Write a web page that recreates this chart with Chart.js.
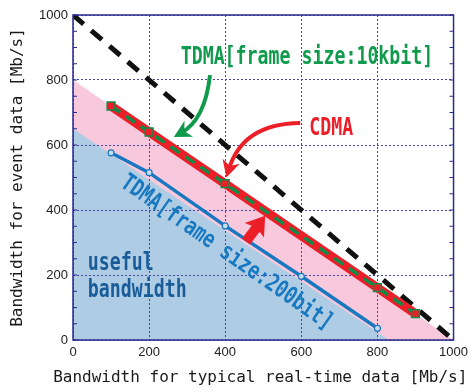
<!DOCTYPE html>
<html>
<head>
<meta charset="utf-8">
<script src="https://cdn.jsdelivr.net/npm/chart.js@4"></script>
<style>
  html, body { margin: 0; padding: 0; background: #fff; }
  #wrap { width: 473px; height: 392px; }
</style>
</head>
<body>
<div id="wrap"><canvas id="chart_bw"></canvas></div>
<script>
// data (Mb/s)
var tdma10kX = [100, 200, 400, 800, 900];
var tdma10kY = [720, 640, 481, 161, 81];
var cdmaX = [100, 200, 400, 800, 900];
var cdmaY = [720, 640, 481, 161, 81];
var tdma200X = [100, 200, 400, 600, 800];
var tdma200Y = [576, 515, 351, 196, 36];
var limitX = [0, 1000];
var limitY = [1000, 0];
var cdmaAreaX = [0, 1000];
var cdmaAreaY = [800, 0];
var usefulX = [0, 830];
var usefulY = [650, 0];
var tickStep = 200;
var minorStep = 50;

function pts(xs, ys) {
  return xs.map(function(x, i) { return {x: x, y: ys[i]}; });
}

var NAVY = '#2a2a8c';
var GREEN = '#0f9a4c';
var RED = '#ec1f28';
var BLUE = '#1878c0';

// condensed text, drawn in data coordinates
function label(ctx, chart, str, x, y, color, opts) {
  opts = opts || {};
  var px = chart.scales.x.getPixelForValue(x);
  var py = chart.scales.y.getPixelForValue(y);
  ctx.save();
  ctx.translate(px, py);
  ctx.rotate(opts.rot || 0);
  ctx.scale(opts.sx || 0.76, 1);
  ctx.font = 'bold ' + (opts.size || 24) + 'px "DejaVu Sans Mono"';
  ctx.fillStyle = color;
  ctx.textAlign = opts.align || 'left';
  ctx.textBaseline = opts.baseline || 'alphabetic';
  ctx.fillText(str, 0, 0);
  ctx.restore();
}

function head(ctx, tx, ty, ang, len, hw, color) {
  ctx.save();
  ctx.translate(tx, ty);
  ctx.rotate(ang);
  ctx.fillStyle = color;
  ctx.beginPath();
  ctx.moveTo(0, 0);
  ctx.lineTo(-len, -hw);
  ctx.lineTo(-len * 0.7, 0);
  ctx.lineTo(-len, hw);
  ctx.closePath();
  ctx.fill();
  ctx.restore();
}

function curvedArrow(ctx, chart, p0, c, p1, color) {
  var sx = chart.scales.x, sy = chart.scales.y;
  var x0 = sx.getPixelForValue(p0[0]), y0 = sy.getPixelForValue(p0[1]);
  var cx = sx.getPixelForValue(c[0]), cy = sy.getPixelForValue(c[1]);
  var x1 = sx.getPixelForValue(p1[0]), y1 = sy.getPixelForValue(p1[1]);
  var ang = Math.atan2(y1 - cy, x1 - cx);
  ctx.save();
  ctx.strokeStyle = color;
  ctx.lineWidth = 4;
  ctx.beginPath();
  ctx.moveTo(x0, y0);
  ctx.quadraticCurveTo(cx, cy, x1 - Math.cos(ang) * 8, y1 - Math.sin(ang) * 8);
  ctx.stroke();
  ctx.restore();
  head(ctx, x1, y1, ang, 17, 9, color);
}

function blockArrow(ctx, chart, tip, ang, color) {
  var tx = chart.scales.x.getPixelForValue(tip[0]);
  var ty = chart.scales.y.getPixelForValue(tip[1]);
  ctx.save();
  ctx.translate(tx, ty);
  ctx.rotate(ang);
  ctx.fillStyle = color;
  ctx.beginPath();
  ctx.moveTo(0, 0);
  ctx.lineTo(-18, -12);
  ctx.lineTo(-16, -5);
  ctx.lineTo(-32, -5);
  ctx.lineTo(-32, 5);
  ctx.lineTo(-16, 5);
  ctx.lineTo(-18, 12);
  ctx.closePath();
  ctx.fill();
  ctx.restore();
}

var framePlugin = {
  id: 'frame',
  afterDatasetsDraw: function(chart) {
    var ctx = chart.ctx, a = chart.chartArea;
    var sy = chart.scales.y;
    ctx.save();
    ctx.strokeStyle = NAVY;
    ctx.lineWidth = 1.5;
    ctx.strokeRect(a.left, a.top, a.right - a.left, a.bottom - a.top);
    ctx.lineWidth = 1.2;
    ctx.beginPath();
    for (var v = 0; v <= 1000; v += minorStep) {
      var py = sy.getPixelForValue(v);
      ctx.moveTo(a.left, py); ctx.lineTo(a.left + 4, py);
      ctx.moveTo(a.right, py); ctx.lineTo(a.right - 4, py);
    }
    ctx.stroke();
    ctx.restore();

    // x axis title drawn here so it is not squeezed to the plot width
    ctx.save();
    ctx.font = '16px "DejaVu Sans Mono"';
    ctx.fillStyle = '#1a1a1a';
    ctx.textAlign = 'center';
    ctx.textBaseline = 'middle';
    ctx.fillText('Bandwidth for typical real-time data [Mb/s]', (a.left + a.right) / 2 - 3, a.bottom + 38);
    ctx.restore();

    curvedArrow(ctx, chart, [360, 815], [347, 677], [265, 625], GREEN);
    curvedArrow(ctx, chart, [597, 668], [445, 666], [403, 500], RED);
    blockArrow(ctx, chart, [505, 382], -Math.atan2(0.8, 0.6), RED);

    label(ctx, chart, 'TDMA[frame size:10kbit]', 283, 849, GREEN);
    label(ctx, chart, 'CDMA', 621, 631, RED);
    label(ctx, chart, 'useful', 39, 215, '#1a5c98');
    label(ctx, chart, 'bandwidth', 39, 132, '#1a5c98');
    label(ctx, chart, 'TDMA[frame size:200bit]', 403, 268, BLUE,
      {rot: Math.atan2(145, 208), align: 'center', baseline: 'middle'});
  }
};

var config_bw = {
  type: 'line',
  data: {
    datasets: [
      {
        data: pts(tdma10kX, tdma10kY),
        borderColor: '#128a48',
        borderWidth: 3.5,
        borderDash: [11, 7],
        pointStyle: 'rect',
        pointRadius: 5.5,
        pointBorderWidth: 1.5,
        pointBorderColor: '#128a48',
        pointBackgroundColor: RED,
        order: 0,
      },
      {
        data: pts(cdmaX, cdmaY),
        borderColor: RED,
        borderWidth: 9,
        pointRadius: 0,
        order: 1,
      },
      {
        data: pts(limitX, limitY),
        borderColor: '#111',
        borderWidth: 5,
        borderDash: [14, 10],
        pointRadius: 0,
        order: 2,
      },
      {
        data: pts(tdma200X, tdma200Y),
        borderColor: BLUE,
        borderWidth: 3.5,
        pointRadius: 3,
        pointBorderWidth: 1.2,
        pointBorderColor: BLUE,
        pointBackgroundColor: '#c8dcee',
        order: 3,
      },
      {
        data: pts(usefulX, usefulY),
        borderWidth: 0,
        pointRadius: 0,
        backgroundColor: '#aecde5',
        fill: 'origin',
        order: 4,
      },
      {
        data: pts(cdmaAreaX, cdmaAreaY),
        borderWidth: 0,
        pointRadius: 0,
        backgroundColor: '#f8c8dc',
        fill: 'origin',
        order: 5,
      }
    ],
  },
  options: {
    responsive: true,
    maintainAspectRatio: false,
    animation: false,
    layout: { padding: { left: 0, top: 15, right: 15, bottom: 0 } },
    scales: {
      x: {
        type: 'linear',
        min: 0,
        max: 1000,
        afterFit: function(s) { s.height = 52; },
        ticks: {
          stepSize: tickStep, color: '#222', padding: 5,
          font: { family: 'Liberation Sans', size: 13 },
          callback: function(v) { return String(v); },
        },
        grid: { color: '#4545b0', lineWidth: 1, drawTicks: false },
        border: { display: false, dash: [2, 2] },
      },
      y: {
        min: 0,
        max: 1000,
        afterFit: function(s) { s.width = 73; },
        ticks: {
          stepSize: tickStep, color: '#222', padding: 5,
          font: { family: 'Liberation Sans', size: 13 },
          callback: function(v) { return String(v); },
        },
        grid: { color: '#4545b0', lineWidth: 1, drawTicks: false },
        border: { display: false, dash: [2, 2] },
        title: {
          display: true,
          text: 'Bandwidth for event data [Mb/s]',
          color: '#1a1a1a',
          font: { family: 'DejaVu Sans Mono', size: 16 },
          padding: { top: 8, bottom: 0 },
        },
      },
    },
    plugins: {
      legend: { display: false },
      tooltip: { enabled: false },
      filler: { drawTime: 'beforeDraw' },
    },
  },
  plugins: [framePlugin],
};

var chart_bw = new Chart(document.getElementById('chart_bw'), config_bw);
</script>
</body>
</html>
